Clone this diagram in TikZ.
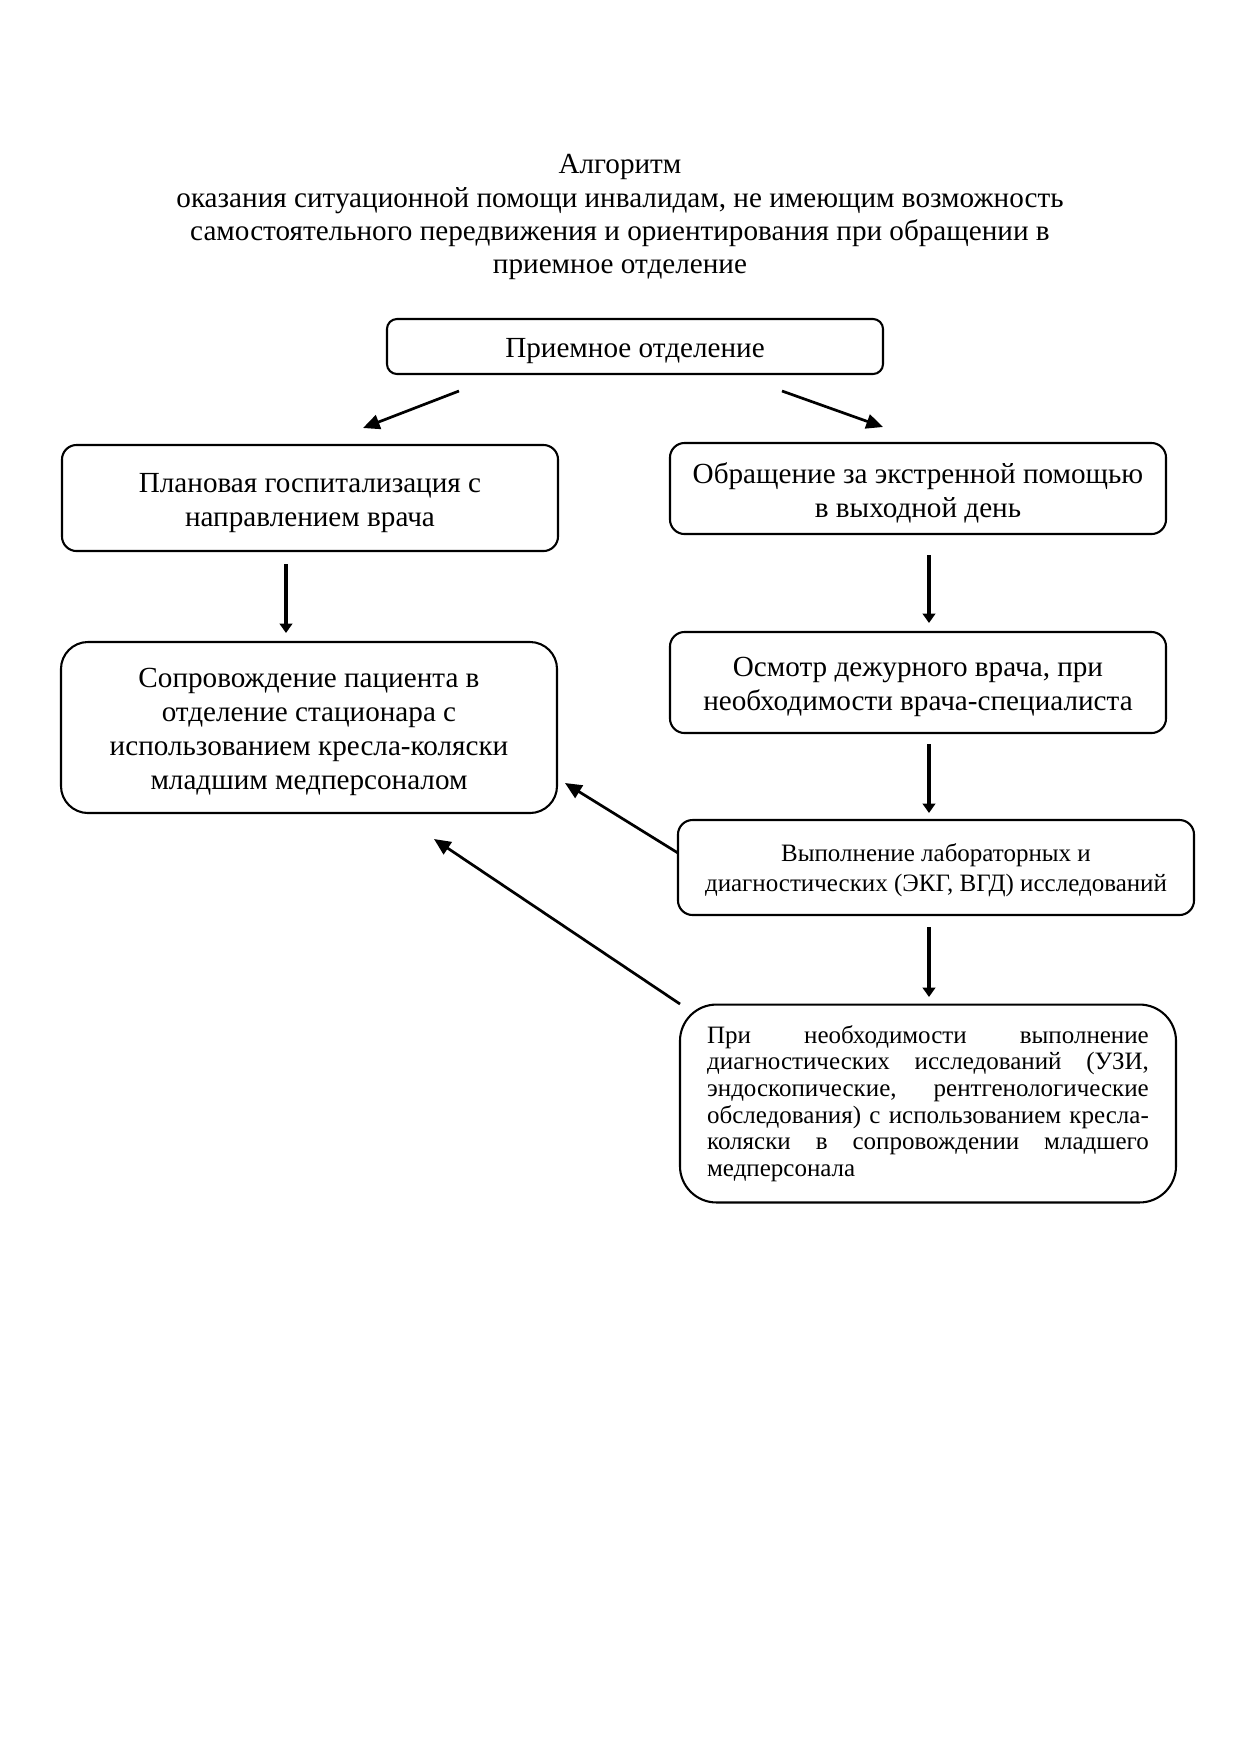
\documentclass[tikz,border=0pt]{standalone}
\usepackage{fontspec}
\setmainfont{Liberation Serif}
\usetikzlibrary{arrows.meta}
\newcommand{\topstrut}{\rule{0pt}{13.8pt}}
\begin{document}
\begin{tikzpicture}[x=0.48pt,y=-0.48pt,
  box/.style={draw, line width=1pt, rounded corners=7pt, align=center, inner sep=0pt,
    minimum width=238.1pt, font=\fontsize{14}{16.3}\selectfont},
  vert/.style={line width=2.2pt, -{Triangle[width=6pt,length=4.5pt]}},
  diag/.style={line width=1.3pt, -{Triangle[width=7pt,length=8pt]}}]
\useasboundingbox (0,0) rectangle (1240,1755);
\fill[white] (0,0) rectangle (1240,1755);
% title
\node[align=center, inner sep=0pt, font=\fontsize{14}{16}\selectfont, anchor=north] (title) at (620,154)
 {Алгоритм\\оказания ситуационной помощи инвалидам, не имеющим возможность\\самостоятельного передвижения и ориентирования при обращении в\\приемное отделение};
% boxes
\node[box, minimum height=26.4pt, rounded corners=4.8pt] (b1) at (635,346.5) {\topstrut Приемное отделение};
\node[box, minimum height=50.9pt] (b2) at (310,498) {\topstrut Плановая госпитализация с\\направлением врача};
\node[box, minimum height=43.7pt] (b3) at (918,488.5) {\topstrut Обращение за экстренной помощью\\в выходной день};
\node[box, minimum height=82.1pt, rounded corners=13pt] (b4) at (309,727.5) {\topstrut Сопровождение пациента в\\отделение стационара с\\использованием кресла-коляски\\младшим медперсоналом};
\node[box, minimum height=48.5pt] (b5) at (918,682.5) {\topstrut Осмотр дежурного врача, при\\необходимости врача-специалиста};
\node[box, minimum width=247.7pt, minimum height=45.6pt, font=\fontsize{12}{14.5}\selectfont] (b6) at (936,867.5) {\rule{0pt}{11.5pt}Выполнение лабораторных и\\диагностических (ЭКГ, ВГД) исследований};
\node[box, minimum height=95pt, rounded corners=17.5pt, align=justify, text width=212pt, font=\fontsize{12}{12.8}\selectfont] (b7) at (928,1103.5)
 {\hyphenpenalty=10000 При необходимости выполнение\linebreak диагностических исследований (УЗИ,\linebreak эндоскопические, рентгенологические\linebreak обследования) с использованием кресла-\linebreak коляски в сопровождении младшего\linebreak медперсонала};
% connector end points
\coordinate (p1) at (459,391); \coordinate (q1) at (363,428);
\coordinate (p2) at (782,391); \coordinate (q2) at (883,427);
\coordinate (p3) at (286,564); \coordinate (q3) at (286,633);
\coordinate (p4) at (929,555); \coordinate (q4) at (929,623);
\coordinate (p5) at (929,744); \coordinate (q5) at (929,813);
\coordinate (p6) at (929,927); \coordinate (q6) at (929,997);
\coordinate (p7) at (678,853); \coordinate (q7) at (565,783);
\coordinate (p8) at (680,1004); \coordinate (q8) at (434,839);
\draw[diag] (p1) -- (q1);
\draw[diag] (p2) -- (q2);
\draw[vert] (p3) -- (q3);
\draw[vert] (p4) -- (q4);
\draw[vert] (p5) -- (q5);
\draw[vert] (p6) -- (q6);
\draw[diag] (p7) -- (q7);
\draw[diag] (p8) -- (q8);
\end{tikzpicture}
\end{document}
